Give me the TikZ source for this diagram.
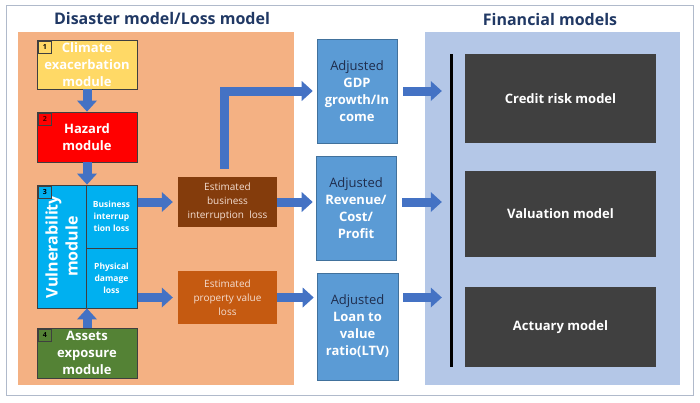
\documentclass[tikz,border=0pt]{standalone}
\usepackage{fontspec}
\setmainfont{Open Sans}
\usetikzlibrary{arrows.meta}

\definecolor{navy}{HTML}{203864}
\definecolor{framecol}{HTML}{B0BACB}
\definecolor{lossbg}{HTML}{F4B183}
\definecolor{finbg}{HTML}{B4C7E7}
\definecolor{modline}{HTML}{3F3F3F}
\definecolor{climyellow}{HTML}{FFD966}
\definecolor{hazred}{HTML}{FF0000}
\definecolor{vulnblue}{HTML}{00B0F0}
\definecolor{assetgreen}{HTML}{548235}
\definecolor{bibrown}{HTML}{843C0C}
\definecolor{pvorange}{HTML}{C55A11}
\definecolor{losstext}{HTML}{F4DED2}
\definecolor{adjblue}{HTML}{5B9BD5}
\definecolor{adjline}{HTML}{41719C}
\definecolor{adjtext}{HTML}{1F2D4D}
\definecolor{findark}{HTML}{404040}
\definecolor{arrowblue}{HTML}{4472C4}

\begin{document}
\begin{tikzpicture}[x=1pt,y=-1pt]

\tikzset{module/.style = {draw=modline, line width=0.8pt, text=white, align=center, inner sep=0pt,
  minimum width=100pt, minimum height=50pt, font=\bfseries\fontsize{13}{17}\selectfont}}
\tikzset{numbox/.style = {draw=modline, line width=0.7pt, anchor=north west, inner sep=0pt,
  minimum width=13pt, minimum height=12pt, font=\bfseries\fontsize{7}{8}\selectfont}}
\tikzset{cell/.style = {draw=modline, line width=0.6pt, text=white, align=center, inner sep=0pt,
  minimum width=51pt, font=\bfseries\fontsize{8.5}{12}\selectfont}}
\tikzset{lossbox/.style = {text=losstext, align=center, inner sep=0pt, minimum width=99pt,
  font=\fontsize{10}{14}\selectfont}}
\tikzset{adjbox/.style = {fill=adjblue, draw=adjline, line width=0.6pt, text=white, align=center,
  inner sep=0pt, minimum width=80pt, minimum height=104pt, font=\bfseries\fontsize{13}{17}\selectfont}}
\tikzset{finbox/.style = {fill=findark, text=white, inner sep=0pt, minimum width=191pt,
  font=\bfseries\fontsize{13}{17}\selectfont}}
\tikzset{title/.style = {text=navy, font=\bfseries\fontsize{16}{20}\selectfont}}
\tikzset{blk/.style = {draw=arrowblue, line width=9pt, -{Triangle[length=11pt,width=20pt,line width=0pt]}}}

\useasboundingbox (0,0) rectangle (700,402);

% panels
\draw[framecol, line width=1pt] (6,5) rectangle (693,395);
\fill[lossbg] (18,32) rectangle (294,385);
\fill[finbg] (425,32) rectangle (680,385);
\node[title] (losstitle) at (162,18) {Disaster model/Loss model};
\node[title] (fintitle) at (550,19) {Financial models};

% modules
\node[module, fill=climyellow, minimum height=49pt] (clim) at (87,64.5) {Climate\\exacerbation\\module};
\node[module, fill=hazred] (haz) at (87,137) {Hazard\\module};
\node[module, fill=vulnblue, minimum height=123pt] (vuln) at (87,246.5) {};
\node[module, fill=assetgreen] (assets) at (87,353) {Assets\\exposure\\module};
\node[text=white, align=center, rotate=90, font=\bfseries\fontsize{16}{20}\selectfont] (vlabel) at (61.5,246.5) {Vulnerability\\module};
\node[cell, minimum height=63pt] (bi) at (111.5,216.5) {Business\\interrup\\tion loss};
\node[cell, minimum height=60pt] (pd) at (111.5,278) {Physical\\damage\\loss};

\node[numbox, fill=climyellow] (n1) at ([shift={(1.5,1.5)}]clim.north west) {1};
\node[numbox, fill=hazred, text=black!70!red] (n2) at ([shift={(1.5,1.5)}]haz.north west) {2};
\node[numbox, fill=vulnblue] (n3) at ([shift={(1.5,1.5)}]vuln.north west) {3};
\node[numbox, fill=assetgreen] (n4) at ([shift={(1.5,1.5)}]assets.north west) {4};

% losses
\node[lossbox, fill=bibrown, minimum height=50pt] (ebi) at (227.5,202) {Estimated\\business\\interruption\ \ loss};
\node[lossbox, fill=pvorange, minimum height=53pt] (epv) at (227.5,297.5) {Estimated\\property value\\loss};

% adjusted values
\node[adjbox] (gdp) at (357,91) {\mdseries\color{adjtext}Adjusted\\GDP\\growth/In\\come};
\node[adjbox] (rev) at (356,208) {\mdseries\color{adjtext}Adjusted\\Revenue/\\Cost/\\Profit};
\node[adjbox, minimum width=81pt, minimum height=107pt] (loan) at (357.5,326.5) {\mdseries\color{adjtext}Adjusted\\Loan to\\value\\ratio(LTV)};

% financial models
\node[fill=black, inner sep=0pt, minimum width=3pt, minimum height=313pt] (bar) at (451.5,210.5) {};
\node[finbox, minimum height=89pt] (credit) at (560.5,98.5) {Credit risk model};
\node[finbox, minimum height=86pt] (valu) at (560.5,214) {Valuation model};
\node[finbox, minimum height=80pt] (actu) at (560.5,327) {Actuary model};

% arrows
\draw[blk] (clim) -- (haz);
\draw[blk] (haz) -- (vuln);
\draw[blk] (assets) -- (vuln);
\draw[blk, shorten <=1pt, shorten >=5pt] (bi.east |- ebi.west) -- (ebi.west);
\draw[blk, shorten <=1pt, shorten >=5pt] (pd.east |- epv.west) -- (epv.west);
\draw[blk, shorten >=3pt] (ebi.east) -- (ebi.east -| rev.west);
\draw[blk, shorten >=3pt] (epv.east) -- (epv.east -| loan.west);
\draw[blk, shorten <=8pt, shorten >=4pt] ([xshift=-3pt]ebi.north) |- (gdp.west);
\draw[blk, shorten <=6pt, shorten >=8pt] (gdp.east) -- (gdp.east -| bar.west);
\draw[blk, shorten <=6pt, shorten >=8pt] (rev.east |- ebi.east) -- (bar.west |- ebi.east);
\draw[blk, shorten <=5pt, shorten >=8pt] (loan.east |- epv.east) -- (bar.west |- epv.east);

\end{tikzpicture}
\end{document}
